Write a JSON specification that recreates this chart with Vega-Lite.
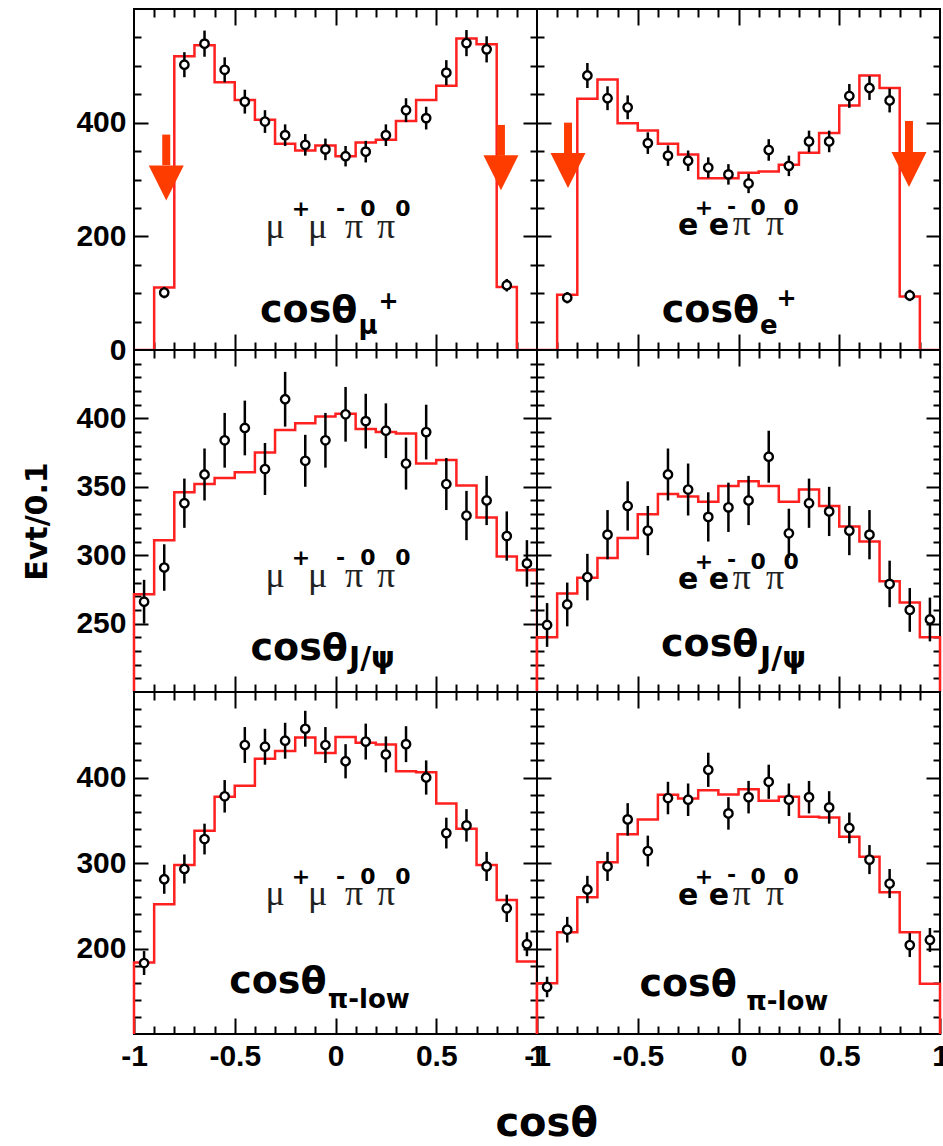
{
"$schema": "https://vega.github.io/schema/vega-lite/v6.json",
"background": "white",
"padding": {"left": 21, "top": 7, "right": 0, "bottom": 0},
"spacing": 0,
"columns": 2,
"bounds": "flush",
"config": {"view": {"stroke": "black", "strokeWidth": 2, "fill": "white"}},
"title": {"text": "cosθ", "orient": "bottom", "anchor": "middle", "font": "DejaVu Sans", "fontSize": 40, "fontWeight": "bold", "color": "black", "offset": 24, "dx": 61},
"datasets": {
"hist": [
{"p":"a","i":0,"x":-1,"v":0},{"p":"a","i":1,"x":-1,"v":0},{"p":"a","i":2,"x":-0.9,"v":110},{"p":"a","i":3,"x":-0.8,"v":517},{"p":"a","i":4,"x":-0.7,"v":536},{"p":"a","i":5,"x":-0.6,"v":471},{"p":"a","i":6,"x":-0.5,"v":440},{"p":"a","i":7,"x":-0.4,"v":405},{"p":"a","i":8,"x":-0.3,"v":363},{"p":"a","i":9,"x":-0.2,"v":351},{"p":"a","i":10,"x":-0.1,"v":360},{"p":"a","i":11,"x":0,"v":341},{"p":"a","i":12,"x":0.1,"v":365},{"p":"a","i":13,"x":0.2,"v":370},{"p":"a","i":14,"x":0.3,"v":403},{"p":"a","i":15,"x":0.4,"v":440},{"p":"a","i":16,"x":0.5,"v":465},{"p":"a","i":17,"x":0.6,"v":548},{"p":"a","i":18,"x":0.7,"v":538},{"p":"a","i":19,"x":0.8,"v":111},{"p":"a","i":20,"x":0.9,"v":0},{"p":"a","i":21,"x":1,"v":0},{"p":"a","i":22,"x":1,"v":0},
{"p":"b","i":0,"x":-1,"v":0},{"p":"b","i":1,"x":-1,"v":0},{"p":"b","i":2,"x":-0.9,"v":97},{"p":"b","i":3,"x":-0.8,"v":442},{"p":"b","i":4,"x":-0.7,"v":476},{"p":"b","i":5,"x":-0.6,"v":399},{"p":"b","i":6,"x":-0.5,"v":386},{"p":"b","i":7,"x":-0.4,"v":363},{"p":"b","i":8,"x":-0.3,"v":344},{"p":"b","i":9,"x":-0.2,"v":302},{"p":"b","i":10,"x":-0.1,"v":302},{"p":"b","i":11,"x":0,"v":312},{"p":"b","i":12,"x":0.1,"v":314},{"p":"b","i":13,"x":0.2,"v":326},{"p":"b","i":14,"x":0.3,"v":347},{"p":"b","i":15,"x":0.4,"v":382},{"p":"b","i":16,"x":0.5,"v":430},{"p":"b","i":17,"x":0.6,"v":483},{"p":"b","i":18,"x":0.7,"v":461},{"p":"b","i":19,"x":0.8,"v":94},{"p":"b","i":20,"x":0.9,"v":0},{"p":"b","i":21,"x":1,"v":0},{"p":"b","i":22,"x":1,"v":0},
{"p":"c","i":0,"x":-1,"v":200},{"p":"c","i":1,"x":-1,"v":271.5},{"p":"c","i":2,"x":-0.9,"v":311},{"p":"c","i":3,"x":-0.8,"v":346},{"p":"c","i":4,"x":-0.7,"v":352},{"p":"c","i":5,"x":-0.6,"v":356.5},{"p":"c","i":6,"x":-0.5,"v":360.6},{"p":"c","i":7,"x":-0.4,"v":375},{"p":"c","i":8,"x":-0.3,"v":391.5},{"p":"c","i":9,"x":-0.2,"v":396.4},{"p":"c","i":10,"x":-0.1,"v":401.4},{"p":"c","i":11,"x":0,"v":403.4},{"p":"c","i":12,"x":0.1,"v":392.3},{"p":"c","i":13,"x":0.2,"v":390},{"p":"c","i":14,"x":0.3,"v":389},{"p":"c","i":15,"x":0.4,"v":367},{"p":"c","i":16,"x":0.5,"v":369.6},{"p":"c","i":17,"x":0.6,"v":351},{"p":"c","i":18,"x":0.7,"v":327.5},{"p":"c","i":19,"x":0.8,"v":299},{"p":"c","i":20,"x":0.9,"v":289},{"p":"c","i":21,"x":1,"v":289},{"p":"c","i":22,"x":1,"v":200},
{"p":"d","i":0,"x":-1,"v":200},{"p":"d","i":1,"x":-1,"v":240},{"p":"d","i":2,"x":-0.9,"v":272},{"p":"d","i":3,"x":-0.8,"v":283.6},{"p":"d","i":4,"x":-0.7,"v":298},{"p":"d","i":5,"x":-0.6,"v":312.6},{"p":"d","i":6,"x":-0.5,"v":330},{"p":"d","i":7,"x":-0.4,"v":344.7},{"p":"d","i":8,"x":-0.3,"v":343},{"p":"d","i":9,"x":-0.2,"v":339},{"p":"d","i":10,"x":-0.1,"v":350.5},{"p":"d","i":11,"x":0,"v":354},{"p":"d","i":12,"x":0.1,"v":350.5},{"p":"d","i":13,"x":0.2,"v":339},{"p":"d","i":14,"x":0.3,"v":348},{"p":"d","i":15,"x":0.4,"v":336},{"p":"d","i":16,"x":0.5,"v":321},{"p":"d","i":17,"x":0.6,"v":310},{"p":"d","i":18,"x":0.7,"v":281},{"p":"d","i":19,"x":0.8,"v":265.5},{"p":"d","i":20,"x":0.9,"v":240},{"p":"d","i":21,"x":1,"v":240},{"p":"d","i":22,"x":1,"v":200},
{"p":"e","i":0,"x":-1,"v":100},{"p":"e","i":1,"x":-1,"v":183.7},{"p":"e","i":2,"x":-0.9,"v":251.8},{"p":"e","i":3,"x":-0.8,"v":297.7},{"p":"e","i":4,"x":-0.7,"v":337.7},{"p":"e","i":5,"x":-0.6,"v":377.4},{"p":"e","i":6,"x":-0.5,"v":390.3},{"p":"e","i":7,"x":-0.4,"v":421.8},{"p":"e","i":8,"x":-0.3,"v":431},{"p":"e","i":9,"x":-0.2,"v":446.7},{"p":"e","i":10,"x":-0.1,"v":428.8},{"p":"e","i":11,"x":0,"v":447.5},{"p":"e","i":12,"x":0.1,"v":440.5},{"p":"e","i":13,"x":0.2,"v":438.5},{"p":"e","i":14,"x":0.3,"v":407.4},{"p":"e","i":15,"x":0.4,"v":406.2},{"p":"e","i":16,"x":0.5,"v":369.6},{"p":"e","i":17,"x":0.6,"v":340},{"p":"e","i":18,"x":0.7,"v":297.7},{"p":"e","i":19,"x":0.8,"v":256.8},{"p":"e","i":20,"x":0.9,"v":184.8},{"p":"e","i":21,"x":1,"v":184.8},{"p":"e","i":22,"x":1,"v":100},
{"p":"f","i":0,"x":-1,"v":100},{"p":"f","i":1,"x":-1,"v":159.5},{"p":"f","i":2,"x":-0.9,"v":219},{"p":"f","i":3,"x":-0.8,"v":260},{"p":"f","i":4,"x":-0.7,"v":300.8},{"p":"f","i":5,"x":-0.6,"v":333.5},{"p":"f","i":6,"x":-0.5,"v":351},{"p":"f","i":7,"x":-0.4,"v":379.8},{"p":"f","i":8,"x":-0.3,"v":375.5},{"p":"f","i":9,"x":-0.2,"v":385.2},{"p":"f","i":10,"x":-0.1,"v":380},{"p":"f","i":11,"x":0,"v":386.4},{"p":"f","i":12,"x":0.1,"v":372.8},{"p":"f","i":13,"x":0.2,"v":377.4},{"p":"f","i":14,"x":0.3,"v":354},{"p":"f","i":15,"x":0.4,"v":353.3},{"p":"f","i":16,"x":0.5,"v":330.7},{"p":"f","i":17,"x":0.6,"v":307.4},{"p":"f","i":18,"x":0.7,"v":265.8},{"p":"f","i":19,"x":0.8,"v":219},{"p":"f","i":20,"x":0.9,"v":158.8},{"p":"f","i":21,"x":1,"v":158.8},{"p":"f","i":22,"x":1,"v":100}
],
"pts": [
{"p":"a","x":-0.85,"v":101,"e":10},{"p":"a","x":-0.75,"v":502,"e":22},{"p":"a","x":-0.65,"v":539,"e":23},{"p":"a","x":-0.55,"v":493,"e":22},{"p":"a","x":-0.45,"v":437,"e":21},{"p":"a","x":-0.35,"v":402,"e":20},{"p":"a","x":-0.25,"v":378,"e":19},{"p":"a","x":-0.15,"v":361,"e":19},{"p":"a","x":-0.05,"v":353,"e":19},{"p":"a","x":0.05,"v":341,"e":18},{"p":"a","x":0.15,"v":349,"e":19},{"p":"a","x":0.25,"v":378,"e":19},{"p":"a","x":0.35,"v":422,"e":21},{"p":"a","x":0.45,"v":408,"e":20},{"p":"a","x":0.55,"v":488,"e":22},{"p":"a","x":0.65,"v":540,"e":23},{"p":"a","x":0.75,"v":529,"e":23},{"p":"a","x":0.85,"v":114,"e":11},
{"p":"b","x":-0.85,"v":92,"e":10},{"p":"b","x":-0.75,"v":483,"e":22},{"p":"b","x":-0.65,"v":443,"e":21},{"p":"b","x":-0.55,"v":427,"e":21},{"p":"b","x":-0.45,"v":364,"e":19},{"p":"b","x":-0.35,"v":342,"e":18},{"p":"b","x":-0.25,"v":333,"e":18},{"p":"b","x":-0.15,"v":321,"e":18},{"p":"b","x":-0.05,"v":309,"e":18},{"p":"b","x":0.05,"v":293,"e":17},{"p":"b","x":0.15,"v":352,"e":19},{"p":"b","x":0.25,"v":324,"e":18},{"p":"b","x":0.35,"v":367,"e":19},{"p":"b","x":0.45,"v":367,"e":19},{"p":"b","x":0.55,"v":447,"e":21},{"p":"b","x":0.65,"v":461,"e":21},{"p":"b","x":0.75,"v":439,"e":21},{"p":"b","x":0.85,"v":96,"e":10},
{"p":"c","x":-0.95,"v":266,"e":16},{"p":"c","x":-0.85,"v":291,"e":17},{"p":"c","x":-0.75,"v":338,"e":18},{"p":"c","x":-0.65,"v":359,"e":19},{"p":"c","x":-0.55,"v":384,"e":20},{"p":"c","x":-0.45,"v":393,"e":20},{"p":"c","x":-0.35,"v":363,"e":19},{"p":"c","x":-0.25,"v":414,"e":20},{"p":"c","x":-0.15,"v":369,"e":19},{"p":"c","x":-0.05,"v":384,"e":20},{"p":"c","x":0.05,"v":403,"e":20},{"p":"c","x":0.15,"v":398,"e":20},{"p":"c","x":0.25,"v":391,"e":20},{"p":"c","x":0.35,"v":367,"e":19},{"p":"c","x":0.45,"v":390,"e":20},{"p":"c","x":0.55,"v":352,"e":19},{"p":"c","x":0.65,"v":329,"e":18},{"p":"c","x":0.75,"v":340,"e":18},{"p":"c","x":0.85,"v":314,"e":18},{"p":"c","x":0.95,"v":294,"e":17},
{"p":"d","x":-0.95,"v":249,"e":16},{"p":"d","x":-0.85,"v":264,"e":16},{"p":"d","x":-0.75,"v":284,"e":17},{"p":"d","x":-0.65,"v":315,"e":18},{"p":"d","x":-0.55,"v":336,"e":18},{"p":"d","x":-0.45,"v":318,"e":18},{"p":"d","x":-0.35,"v":359,"e":19},{"p":"d","x":-0.25,"v":348,"e":19},{"p":"d","x":-0.15,"v":328,"e":18},{"p":"d","x":-0.05,"v":335,"e":18},{"p":"d","x":0.05,"v":340,"e":18},{"p":"d","x":0.15,"v":372,"e":19},{"p":"d","x":0.25,"v":316,"e":18},{"p":"d","x":0.35,"v":338,"e":18},{"p":"d","x":0.45,"v":332,"e":18},{"p":"d","x":0.55,"v":318,"e":18},{"p":"d","x":0.65,"v":315,"e":18},{"p":"d","x":0.75,"v":279,"e":17},{"p":"d","x":0.85,"v":260,"e":16},{"p":"d","x":0.95,"v":253,"e":16},
{"p":"e","x":-0.95,"v":183,"e":14},{"p":"e","x":-0.85,"v":281,"e":17},{"p":"e","x":-0.75,"v":293,"e":17},{"p":"e","x":-0.65,"v":328,"e":18},{"p":"e","x":-0.55,"v":378,"e":19},{"p":"e","x":-0.45,"v":438,"e":21},{"p":"e","x":-0.35,"v":436,"e":21},{"p":"e","x":-0.25,"v":443,"e":21},{"p":"e","x":-0.15,"v":457,"e":21},{"p":"e","x":-0.05,"v":438,"e":21},{"p":"e","x":0.05,"v":419,"e":20},{"p":"e","x":0.15,"v":442,"e":21},{"p":"e","x":0.25,"v":427,"e":21},{"p":"e","x":0.35,"v":439,"e":21},{"p":"e","x":0.45,"v":400,"e":20},{"p":"e","x":0.55,"v":335,"e":18},{"p":"e","x":0.65,"v":344,"e":19},{"p":"e","x":0.75,"v":296,"e":17},{"p":"e","x":0.85,"v":247,"e":16},{"p":"e","x":0.95,"v":205,"e":14},
{"p":"f","x":-0.95,"v":155,"e":12},{"p":"f","x":-0.85,"v":222,"e":15},{"p":"f","x":-0.75,"v":269,"e":16},{"p":"f","x":-0.65,"v":296,"e":17},{"p":"f","x":-0.55,"v":351,"e":19},{"p":"f","x":-0.45,"v":314,"e":18},{"p":"f","x":-0.35,"v":376,"e":19},{"p":"f","x":-0.25,"v":374,"e":19},{"p":"f","x":-0.15,"v":409,"e":20},{"p":"f","x":-0.05,"v":358,"e":19},{"p":"f","x":0.05,"v":377,"e":19},{"p":"f","x":0.15,"v":395,"e":20},{"p":"f","x":0.25,"v":374,"e":19},{"p":"f","x":0.35,"v":377,"e":19},{"p":"f","x":0.45,"v":365,"e":19},{"p":"f","x":0.55,"v":341,"e":18},{"p":"f","x":0.65,"v":304,"e":17},{"p":"f","x":0.75,"v":276,"e":17},{"p":"f","x":0.85,"v":204,"e":14},{"p":"f","x":0.95,"v":210,"e":14}
],
"arr": [
{"p":"a","x":-0.84,"top":379,"neck":325,"tip":263},{"p":"a","x":0.821,"top":396,"neck":342,"tip":281},
{"p":"b","x":-0.846,"top":400,"neck":346,"tip":285},{"p":"b","x":0.846,"top":403,"neck":348,"tip":287}
],
"txt": [
{"p":"a","k":"main","t":"cosθ","x":-0.133,"y":49},{"p":"a","k":"sub","t":"μ","x":0.161,"y":29},{"p":"a","k":"sup","t":"+","x":0.263,"y":73},
{"p":"a","k":"gbase","t":"μ","x":-0.3,"y":197},{"p":"a","k":"gbase","t":"μ","x":-0.089,"y":197},{"p":"a","k":"gbase","t":"π","x":0.092,"y":197},{"p":"a","k":"gbase","t":"π","x":0.251,"y":197},
{"p":"a","k":"dsup","t":"+","x":-0.171,"y":236},{"p":"a","k":"dsup","t":"-","x":0.025,"y":236},{"p":"a","k":"dsup","t":"0","x":0.161,"y":236},{"p":"a","k":"dsup","t":"0","x":0.335,"y":236},
{"p":"b","k":"main","t":"cosθ","x":-0.139,"y":49},{"p":"b","k":"sub","t":"e","x":0.151,"y":29},{"p":"b","k":"sup","t":"+","x":0.239,"y":78},
{"p":"b","k":"ebase","t":"e","x":-0.25,"y":202},{"p":"b","k":"ebase","t":"e","x":-0.097,"y":202},{"p":"b","k":"gbase","t":"π","x":0.017,"y":202},{"p":"b","k":"gbase","t":"π","x":0.181,"y":202},
{"p":"b","k":"dsup","t":"+","x":-0.171,"y":237},{"p":"b","k":"dsup","t":"-","x":-0.035,"y":240},{"p":"b","k":"dsup","t":"0","x":0.097,"y":237},{"p":"b","k":"dsup","t":"0","x":0.261,"y":237},
{"p":"c","k":"main","t":"cosθ","x":-0.18,"y":223.7},{"p":"c","k":"sub2","t":"J/ψ","x":0.181,"y":217.7},
{"p":"c","k":"gbase","t":"μ","x":-0.3,"y":277},{"p":"c","k":"gbase","t":"μ","x":-0.089,"y":277},{"p":"c","k":"gbase","t":"π","x":0.092,"y":277},{"p":"c","k":"gbase","t":"π","x":0.251,"y":277},
{"p":"c","k":"dsup","t":"+","x":-0.171,"y":293},{"p":"c","k":"dsup","t":"-","x":0.025,"y":293},{"p":"c","k":"dsup","t":"0","x":0.161,"y":293},{"p":"c","k":"dsup","t":"0","x":0.335,"y":293},
{"p":"d","k":"main","t":"cosθ","x":-0.143,"y":226.6},{"p":"d","k":"sub2","t":"J/ψ","x":0.221,"y":217.7},
{"p":"d","k":"ebase","t":"e","x":-0.25,"y":275.6},{"p":"d","k":"ebase","t":"e","x":-0.097,"y":275.6},{"p":"d","k":"gbase","t":"π","x":0.017,"y":275.6},{"p":"d","k":"gbase","t":"π","x":0.181,"y":275.6},
{"p":"d","k":"dsup","t":"+","x":-0.171,"y":290},{"p":"d","k":"dsup","t":"-","x":-0.035,"y":291.5},{"p":"d","k":"dsup","t":"0","x":0.097,"y":290},{"p":"d","k":"dsup","t":"0","x":0.261,"y":290},
{"p":"e","k":"main","t":"cosθ","x":-0.286,"y":148},{"p":"e","k":"sub","t":"π-low","x":0.165,"y":130.7},
{"p":"e","k":"gbase","t":"μ","x":-0.3,"y":251},{"p":"e","k":"gbase","t":"μ","x":-0.089,"y":251},{"p":"e","k":"gbase","t":"π","x":0.092,"y":251},{"p":"e","k":"gbase","t":"π","x":0.251,"y":251},
{"p":"e","k":"dsup","t":"+","x":-0.171,"y":276},{"p":"e","k":"dsup","t":"-","x":0.025,"y":276},{"p":"e","k":"dsup","t":"0","x":0.161,"y":276},{"p":"e","k":"dsup","t":"0","x":0.335,"y":276},
{"p":"f","k":"main","t":"cosθ","x":-0.25,"y":144},{"p":"f","k":"sub","t":"π-low","x":0.242,"y":128.4},
{"p":"f","k":"ebase","t":"e","x":-0.25,"y":251},{"p":"f","k":"ebase","t":"e","x":-0.097,"y":251},{"p":"f","k":"gbase","t":"π","x":0.017,"y":251},{"p":"f","k":"gbase","t":"π","x":0.181,"y":251},
{"p":"f","k":"dsup","t":"+","x":-0.171,"y":275.6},{"p":"f","k":"dsup","t":"-","x":-0.035,"y":278},{"p":"f","k":"dsup","t":"0","x":0.097,"y":275.6},{"p":"f","k":"dsup","t":"0","x":0.261,"y":275.6}
]
},
"concat": [
{"width": 403, "height": 341, "resolve": {"axis": {"x": "independent", "y": "independent"}},
 "layer": [
  {"data": {"name": "hist"}, "transform": [{"filter": "datum.p == 'a'"}], "mark": {"type": "line", "interpolate": "step-after", "color": "#ff2020", "strokeWidth": 2.5},
   "encoding": {"x": {"field": "x", "type": "quantitative", "scale": {"domain": [-1, 1], "nice": false, "zero": false}, "axis": {"orient": "bottom", "values": [-0.9,-0.8,-0.7,-0.6,-0.5,-0.4,-0.3,-0.2,-0.1,0,0.1,0.2,0.3,0.4,0.5,0.6,0.7,0.8,0.9], "title": null, "grid": false, "domain": false, "labels": false, "tickColor": "black", "tickWidth": 2, "tickSize": {"condition": {"test": "abs(datum.value*2-round(datum.value*2))<0.01", "value": -16}, "value": -8}}},
    "y": {"field": "v", "type": "quantitative", "scale": {"domain": [0, 600], "nice": false, "zero": false}, "axis": {"orient": "left", "values": [0,50,100,150,200,250,300,350,400,450,500,550], "title": null, "grid": false, "domain": false, "tickColor": "black", "tickWidth": 2, "tickSize": {"condition": {"test": "datum.value % 200 == 0", "value": -14}, "value": -7}, "labelExpr": "datum.value % 200 == 0 ? toString(datum.value) : ''", "labelFont": "Liberation Sans", "labelFontWeight": "bold", "labelFontSize": 30, "labelColor": "black", "labelPadding": 22, "labelOverlap": false, "labelFlush": false, "labelBound": false}},
    "order": {"field": "i", "type": "quantitative"}}},
  {"data": {"name": "pts"}, "transform": [{"filter": "datum.p == 'a'"}], "mark": {"type": "errorbar", "color": "black", "thickness": 2.5},
   "encoding": {"x": {"field": "x", "type": "quantitative", "axis": null}, "y": {"field": "v", "type": "quantitative", "axis": null}, "yError": {"field": "e"}}},
  {"data": {"name": "pts"}, "transform": [{"filter": "datum.p == 'a'"}], "mark": {"type": "point", "shape": "circle", "size": 70, "fill": "white", "stroke": "black", "strokeWidth": 2.4, "opacity": 1},
   "encoding": {"x": {"field": "x", "type": "quantitative", "axis": {"orient": "top", "values": [-0.9,-0.8,-0.7,-0.6,-0.5,-0.4,-0.3,-0.2,-0.1,0,0.1,0.2,0.3,0.4,0.5,0.6,0.7,0.8,0.9], "title": null, "grid": false, "domain": false, "labels": false, "tickColor": "black", "tickWidth": 2, "tickSize": {"condition": {"test": "abs(datum.value*2-round(datum.value*2))<0.01", "value": -16}, "value": -8}}},
    "y": {"field": "v", "type": "quantitative", "axis": {"orient": "right", "values": [50,100,150,200,250,300,350,400,450,500,550], "title": null, "grid": false, "domain": false, "labels": false, "tickColor": "black", "tickWidth": 2, "tickSize": {"condition": {"test": "datum.value % 200 == 0", "value": -14}, "value": -7}}}}},
  {"data": {"name": "arr"}, "transform": [{"filter": "datum.p == 'a'"}], "mark": {"type": "rule", "color": "#ff3c00", "strokeWidth": 8},
   "encoding": {"x": {"field": "x", "type": "quantitative", "axis": null}, "y": {"field": "top", "type": "quantitative", "axis": null}, "y2": {"field": "neck"}}},
  {"data": {"name": "arr"}, "transform": [{"filter": "datum.p == 'a'"}], "mark": {"type": "point", "shape": "M-1,-2L1,-2L0,0Z", "size": 1225, "filled": true, "color": "#ff3c00", "opacity": 1, "strokeWidth": 0},
   "encoding": {"x": {"field": "x", "type": "quantitative", "axis": null}, "y": {"field": "tip", "type": "quantitative", "axis": null}}},
  {"data": {"name": "txt"}, "transform": [{"filter": "datum.p == 'a' && datum.k != 'gbase'"}], "mark": {"type": "text", "font": "DejaVu Sans", "fontWeight": "bold", "align": "center", "baseline": "alphabetic", "color": "black"},
   "encoding": {"x": {"field": "x", "type": "quantitative", "axis": null}, "y": {"field": "y", "type": "quantitative", "axis": null}, "text": {"field": "t"}, "size": {"field": "k", "type": "ordinal", "scale": {"type": "ordinal", "domain": ["main","sub","sub2","sup","dsup","ebase","gbase"], "range": [38,26,30,24,22,30,36]}, "legend": null}}},
  {"data": {"name": "txt"}, "transform": [{"filter": "datum.p == 'a' && datum.k == 'gbase'"}], "mark": {"type": "text", "font": "Liberation Serif", "fontSize": 36, "align": "center", "baseline": "alphabetic", "color": "#222222"},
   "encoding": {"x": {"field": "x", "type": "quantitative", "axis": null}, "y": {"field": "y", "type": "quantitative", "axis": null}, "text": {"field": "t"}}}
 ]},
{"width": 403, "height": 341, "resolve": {"axis": {"x": "independent", "y": "independent"}},
 "layer": [
  {"data": {"name": "hist"}, "transform": [{"filter": "datum.p == 'b'"}], "mark": {"type": "line", "interpolate": "step-after", "color": "#ff2020", "strokeWidth": 2.5},
   "encoding": {"x": {"field": "x", "type": "quantitative", "scale": {"domain": [-1, 1], "nice": false, "zero": false}, "axis": {"orient": "bottom", "values": [-0.9,-0.8,-0.7,-0.6,-0.5,-0.4,-0.3,-0.2,-0.1,0,0.1,0.2,0.3,0.4,0.5,0.6,0.7,0.8,0.9], "title": null, "grid": false, "domain": false, "labels": false, "tickColor": "black", "tickWidth": 2, "tickSize": {"condition": {"test": "abs(datum.value*2-round(datum.value*2))<0.01", "value": -16}, "value": -8}}},
    "y": {"field": "v", "type": "quantitative", "scale": {"domain": [0, 600], "nice": false, "zero": false}, "axis": {"orient": "left", "values": [50,100,150,200,250,300,350,400,450,500,550], "title": null, "grid": false, "domain": false, "labels": false, "tickColor": "black", "tickWidth": 2, "tickSize": {"condition": {"test": "datum.value % 200 == 0", "value": -14}, "value": -7}}},
    "order": {"field": "i", "type": "quantitative"}}},
  {"data": {"name": "pts"}, "transform": [{"filter": "datum.p == 'b'"}], "mark": {"type": "errorbar", "color": "black", "thickness": 2.5},
   "encoding": {"x": {"field": "x", "type": "quantitative", "axis": null}, "y": {"field": "v", "type": "quantitative", "axis": null}, "yError": {"field": "e"}}},
  {"data": {"name": "pts"}, "transform": [{"filter": "datum.p == 'b'"}], "mark": {"type": "point", "shape": "circle", "size": 70, "fill": "white", "stroke": "black", "strokeWidth": 2.4, "opacity": 1},
   "encoding": {"x": {"field": "x", "type": "quantitative", "axis": {"orient": "top", "values": [-0.9,-0.8,-0.7,-0.6,-0.5,-0.4,-0.3,-0.2,-0.1,0,0.1,0.2,0.3,0.4,0.5,0.6,0.7,0.8,0.9], "title": null, "grid": false, "domain": false, "labels": false, "tickColor": "black", "tickWidth": 2, "tickSize": {"condition": {"test": "abs(datum.value*2-round(datum.value*2))<0.01", "value": -16}, "value": -8}}},
    "y": {"field": "v", "type": "quantitative", "axis": {"orient": "right", "values": [50,100,150,200,250,300,350,400,450,500,550], "title": null, "grid": false, "domain": false, "labels": false, "tickColor": "black", "tickWidth": 2, "tickSize": {"condition": {"test": "datum.value % 200 == 0", "value": -14}, "value": -7}}}}},
  {"data": {"name": "arr"}, "transform": [{"filter": "datum.p == 'b'"}], "mark": {"type": "rule", "color": "#ff3c00", "strokeWidth": 8},
   "encoding": {"x": {"field": "x", "type": "quantitative", "axis": null}, "y": {"field": "top", "type": "quantitative", "axis": null}, "y2": {"field": "neck"}}},
  {"data": {"name": "arr"}, "transform": [{"filter": "datum.p == 'b'"}], "mark": {"type": "point", "shape": "M-1,-2L1,-2L0,0Z", "size": 1225, "filled": true, "color": "#ff3c00", "opacity": 1, "strokeWidth": 0},
   "encoding": {"x": {"field": "x", "type": "quantitative", "axis": null}, "y": {"field": "tip", "type": "quantitative", "axis": null}}},
  {"data": {"name": "txt"}, "transform": [{"filter": "datum.p == 'b' && datum.k != 'gbase'"}], "mark": {"type": "text", "font": "DejaVu Sans", "fontWeight": "bold", "align": "center", "baseline": "alphabetic", "color": "black"},
   "encoding": {"x": {"field": "x", "type": "quantitative", "axis": null}, "y": {"field": "y", "type": "quantitative", "axis": null}, "text": {"field": "t"}, "size": {"field": "k", "type": "ordinal", "scale": {"type": "ordinal", "domain": ["main","sub","sub2","sup","dsup","ebase","gbase"], "range": [38,26,30,24,22,30,36]}, "legend": null}}},
  {"data": {"name": "txt"}, "transform": [{"filter": "datum.p == 'b' && datum.k == 'gbase'"}], "mark": {"type": "text", "font": "Liberation Serif", "fontSize": 36, "align": "center", "baseline": "alphabetic", "color": "#222222"},
   "encoding": {"x": {"field": "x", "type": "quantitative", "axis": null}, "y": {"field": "y", "type": "quantitative", "axis": null}, "text": {"field": "t"}}}
 ]},
{"width": 403, "height": 342, "resolve": {"axis": {"x": "independent", "y": "independent"}},
 "layer": [
  {"data": {"name": "hist"}, "transform": [{"filter": "datum.p == 'c'"}], "mark": {"type": "line", "interpolate": "step-after", "color": "#ff2020", "strokeWidth": 2.5},
   "encoding": {"x": {"field": "x", "type": "quantitative", "scale": {"domain": [-1, 1], "nice": false, "zero": false}, "axis": {"orient": "bottom", "values": [-0.9,-0.8,-0.7,-0.6,-0.5,-0.4,-0.3,-0.2,-0.1,0,0.1,0.2,0.3,0.4,0.5,0.6,0.7,0.8,0.9], "title": null, "grid": false, "domain": false, "labels": false, "tickColor": "black", "tickWidth": 2, "tickSize": {"condition": {"test": "abs(datum.value*2-round(datum.value*2))<0.01", "value": -16}, "value": -8}}},
    "y": {"field": "v", "type": "quantitative", "scale": {"domain": [200, 450], "nice": false, "zero": false}, "axis": {"orient": "left", "values": [210,220,230,240,250,260,270,280,290,300,310,320,330,340,350,360,370,380,390,400,410,420,430,440], "title": "Evt/0.1", "titleFont": "DejaVu Sans", "titleFontWeight": "bold", "titleFontSize": 30, "titleColor": "black", "titlePadding": 23, "grid": false, "domain": false, "tickColor": "black", "tickWidth": 2, "tickSize": {"condition": {"test": "datum.value % 50 == 0", "value": -14}, "value": -7}, "labelExpr": "datum.value % 50 == 0 ? toString(datum.value) : ''", "labelFont": "Liberation Sans", "labelFontWeight": "bold", "labelFontSize": 30, "labelColor": "black", "labelPadding": 22, "labelOverlap": false, "labelFlush": false, "labelBound": false}},
    "order": {"field": "i", "type": "quantitative"}}},
  {"data": {"name": "pts"}, "transform": [{"filter": "datum.p == 'c'"}], "mark": {"type": "errorbar", "color": "black", "thickness": 2.5},
   "encoding": {"x": {"field": "x", "type": "quantitative", "axis": null}, "y": {"field": "v", "type": "quantitative", "axis": null}, "yError": {"field": "e"}}},
  {"data": {"name": "pts"}, "transform": [{"filter": "datum.p == 'c'"}], "mark": {"type": "point", "shape": "circle", "size": 70, "fill": "white", "stroke": "black", "strokeWidth": 2.4, "opacity": 1},
   "encoding": {"x": {"field": "x", "type": "quantitative", "axis": {"orient": "top", "values": [-0.9,-0.8,-0.7,-0.6,-0.5,-0.4,-0.3,-0.2,-0.1,0,0.1,0.2,0.3,0.4,0.5,0.6,0.7,0.8,0.9], "title": null, "grid": false, "domain": false, "labels": false, "tickColor": "black", "tickWidth": 2, "tickSize": {"condition": {"test": "abs(datum.value*2-round(datum.value*2))<0.01", "value": -16}, "value": -8}}},
    "y": {"field": "v", "type": "quantitative", "axis": {"orient": "right", "values": [210,220,230,240,250,260,270,280,290,300,310,320,330,340,350,360,370,380,390,400,410,420,430,440], "title": null, "grid": false, "domain": false, "labels": false, "tickColor": "black", "tickWidth": 2, "tickSize": {"condition": {"test": "datum.value % 50 == 0", "value": -14}, "value": -7}}}}},
  {"data": {"name": "txt"}, "transform": [{"filter": "datum.p == 'c' && datum.k != 'gbase'"}], "mark": {"type": "text", "font": "DejaVu Sans", "fontWeight": "bold", "align": "center", "baseline": "alphabetic", "color": "black"},
   "encoding": {"x": {"field": "x", "type": "quantitative", "axis": null}, "y": {"field": "y", "type": "quantitative", "axis": null}, "text": {"field": "t"}, "size": {"field": "k", "type": "ordinal", "scale": {"type": "ordinal", "domain": ["main","sub","sub2","sup","dsup","ebase","gbase"], "range": [38,26,30,24,22,30,36]}, "legend": null}}},
  {"data": {"name": "txt"}, "transform": [{"filter": "datum.p == 'c' && datum.k == 'gbase'"}], "mark": {"type": "text", "font": "Liberation Serif", "fontSize": 36, "align": "center", "baseline": "alphabetic", "color": "#222222"},
   "encoding": {"x": {"field": "x", "type": "quantitative", "axis": null}, "y": {"field": "y", "type": "quantitative", "axis": null}, "text": {"field": "t"}}}
 ]},
{"width": 403, "height": 342, "resolve": {"axis": {"x": "independent", "y": "independent"}},
 "layer": [
  {"data": {"name": "hist"}, "transform": [{"filter": "datum.p == 'd'"}], "mark": {"type": "line", "interpolate": "step-after", "color": "#ff2020", "strokeWidth": 2.5},
   "encoding": {"x": {"field": "x", "type": "quantitative", "scale": {"domain": [-1, 1], "nice": false, "zero": false}, "axis": {"orient": "bottom", "values": [-0.9,-0.8,-0.7,-0.6,-0.5,-0.4,-0.3,-0.2,-0.1,0,0.1,0.2,0.3,0.4,0.5,0.6,0.7,0.8,0.9], "title": null, "grid": false, "domain": false, "labels": false, "tickColor": "black", "tickWidth": 2, "tickSize": {"condition": {"test": "abs(datum.value*2-round(datum.value*2))<0.01", "value": -16}, "value": -8}}},
    "y": {"field": "v", "type": "quantitative", "scale": {"domain": [200, 450], "nice": false, "zero": false}, "axis": {"orient": "left", "values": [210,220,230,240,250,260,270,280,290,300,310,320,330,340,350,360,370,380,390,400,410,420,430,440], "title": null, "grid": false, "domain": false, "labels": false, "tickColor": "black", "tickWidth": 2, "tickSize": {"condition": {"test": "datum.value % 50 == 0", "value": -14}, "value": -7}}},
    "order": {"field": "i", "type": "quantitative"}}},
  {"data": {"name": "pts"}, "transform": [{"filter": "datum.p == 'd'"}], "mark": {"type": "errorbar", "color": "black", "thickness": 2.5},
   "encoding": {"x": {"field": "x", "type": "quantitative", "axis": null}, "y": {"field": "v", "type": "quantitative", "axis": null}, "yError": {"field": "e"}}},
  {"data": {"name": "pts"}, "transform": [{"filter": "datum.p == 'd'"}], "mark": {"type": "point", "shape": "circle", "size": 70, "fill": "white", "stroke": "black", "strokeWidth": 2.4, "opacity": 1},
   "encoding": {"x": {"field": "x", "type": "quantitative", "axis": {"orient": "top", "values": [-0.9,-0.8,-0.7,-0.6,-0.5,-0.4,-0.3,-0.2,-0.1,0,0.1,0.2,0.3,0.4,0.5,0.6,0.7,0.8,0.9], "title": null, "grid": false, "domain": false, "labels": false, "tickColor": "black", "tickWidth": 2, "tickSize": {"condition": {"test": "abs(datum.value*2-round(datum.value*2))<0.01", "value": -16}, "value": -8}}},
    "y": {"field": "v", "type": "quantitative", "axis": {"orient": "right", "values": [210,220,230,240,250,260,270,280,290,300,310,320,330,340,350,360,370,380,390,400,410,420,430,440], "title": null, "grid": false, "domain": false, "labels": false, "tickColor": "black", "tickWidth": 2, "tickSize": {"condition": {"test": "datum.value % 50 == 0", "value": -14}, "value": -7}}}}},
  {"data": {"name": "txt"}, "transform": [{"filter": "datum.p == 'd' && datum.k != 'gbase'"}], "mark": {"type": "text", "font": "DejaVu Sans", "fontWeight": "bold", "align": "center", "baseline": "alphabetic", "color": "black"},
   "encoding": {"x": {"field": "x", "type": "quantitative", "axis": null}, "y": {"field": "y", "type": "quantitative", "axis": null}, "text": {"field": "t"}, "size": {"field": "k", "type": "ordinal", "scale": {"type": "ordinal", "domain": ["main","sub","sub2","sup","dsup","ebase","gbase"], "range": [38,26,30,24,22,30,36]}, "legend": null}}},
  {"data": {"name": "txt"}, "transform": [{"filter": "datum.p == 'd' && datum.k == 'gbase'"}], "mark": {"type": "text", "font": "Liberation Serif", "fontSize": 36, "align": "center", "baseline": "alphabetic", "color": "#222222"},
   "encoding": {"x": {"field": "x", "type": "quantitative", "axis": null}, "y": {"field": "y", "type": "quantitative", "axis": null}, "text": {"field": "t"}}}
 ]},
{"width": 403, "height": 342, "resolve": {"axis": {"x": "independent", "y": "independent"}},
 "layer": [
  {"data": {"name": "hist"}, "transform": [{"filter": "datum.p == 'e'"}], "mark": {"type": "line", "interpolate": "step-after", "color": "#ff2020", "strokeWidth": 2.5},
   "encoding": {"x": {"field": "x", "type": "quantitative", "scale": {"domain": [-1, 1], "nice": false, "zero": false}, "axis": {"orient": "bottom", "values": [-1,-0.9,-0.8,-0.7,-0.6,-0.5,-0.4,-0.3,-0.2,-0.1,0,0.1,0.2,0.3,0.4,0.5,0.6,0.7,0.8,0.9,1], "title": null, "grid": false, "domain": false, "tickColor": "black", "tickWidth": 2, "tickSize": {"condition": {"test": "abs(datum.value*2-round(datum.value*2))<0.01", "value": -16}, "value": -8}, "labelExpr": "abs(datum.value*2-round(datum.value*2))<0.01 ? toString(datum.value) : ''", "labelFont": "Liberation Sans", "labelFontWeight": "bold", "labelFontSize": 30, "labelColor": "black", "labelPadding": 23, "labelFlush": false, "labelOverlap": false, "labelBound": false}},
    "y": {"field": "v", "type": "quantitative", "scale": {"domain": [100, 500], "nice": false, "zero": false}, "axis": {"orient": "left", "values": [120,140,160,180,200,220,240,260,280,300,320,340,360,380,400,420,440,460,480], "title": null, "grid": false, "domain": false, "tickColor": "black", "tickWidth": 2, "tickSize": {"condition": {"test": "datum.value % 100 == 0", "value": -14}, "value": -7}, "labelExpr": "datum.value % 100 == 0 ? toString(datum.value) : ''", "labelFont": "Liberation Sans", "labelFontWeight": "bold", "labelFontSize": 30, "labelColor": "black", "labelPadding": 22, "labelOverlap": false, "labelFlush": false, "labelBound": false}},
    "order": {"field": "i", "type": "quantitative"}}},
  {"data": {"name": "pts"}, "transform": [{"filter": "datum.p == 'e'"}], "mark": {"type": "errorbar", "color": "black", "thickness": 2.5},
   "encoding": {"x": {"field": "x", "type": "quantitative", "axis": null}, "y": {"field": "v", "type": "quantitative", "axis": null}, "yError": {"field": "e"}}},
  {"data": {"name": "pts"}, "transform": [{"filter": "datum.p == 'e'"}], "mark": {"type": "point", "shape": "circle", "size": 70, "fill": "white", "stroke": "black", "strokeWidth": 2.4, "opacity": 1},
   "encoding": {"x": {"field": "x", "type": "quantitative", "axis": {"orient": "top", "values": [-0.9,-0.8,-0.7,-0.6,-0.5,-0.4,-0.3,-0.2,-0.1,0,0.1,0.2,0.3,0.4,0.5,0.6,0.7,0.8,0.9], "title": null, "grid": false, "domain": false, "labels": false, "tickColor": "black", "tickWidth": 2, "tickSize": {"condition": {"test": "abs(datum.value*2-round(datum.value*2))<0.01", "value": -16}, "value": -8}}},
    "y": {"field": "v", "type": "quantitative", "axis": {"orient": "right", "values": [120,140,160,180,200,220,240,260,280,300,320,340,360,380,400,420,440,460,480], "title": null, "grid": false, "domain": false, "labels": false, "tickColor": "black", "tickWidth": 2, "tickSize": {"condition": {"test": "datum.value % 100 == 0", "value": -14}, "value": -7}}}}},
  {"data": {"name": "txt"}, "transform": [{"filter": "datum.p == 'e' && datum.k != 'gbase'"}], "mark": {"type": "text", "font": "DejaVu Sans", "fontWeight": "bold", "align": "center", "baseline": "alphabetic", "color": "black"},
   "encoding": {"x": {"field": "x", "type": "quantitative", "axis": null}, "y": {"field": "y", "type": "quantitative", "axis": null}, "text": {"field": "t"}, "size": {"field": "k", "type": "ordinal", "scale": {"type": "ordinal", "domain": ["main","sub","sub2","sup","dsup","ebase","gbase"], "range": [38,26,30,24,22,30,36]}, "legend": null}}},
  {"data": {"name": "txt"}, "transform": [{"filter": "datum.p == 'e' && datum.k == 'gbase'"}], "mark": {"type": "text", "font": "Liberation Serif", "fontSize": 36, "align": "center", "baseline": "alphabetic", "color": "#222222"},
   "encoding": {"x": {"field": "x", "type": "quantitative", "axis": null}, "y": {"field": "y", "type": "quantitative", "axis": null}, "text": {"field": "t"}}}
 ]},
{"width": 403, "height": 342, "resolve": {"axis": {"x": "independent", "y": "independent"}},
 "layer": [
  {"data": {"name": "hist"}, "transform": [{"filter": "datum.p == 'f'"}], "mark": {"type": "line", "interpolate": "step-after", "color": "#ff2020", "strokeWidth": 2.5},
   "encoding": {"x": {"field": "x", "type": "quantitative", "scale": {"domain": [-1, 1], "nice": false, "zero": false}, "axis": {"orient": "bottom", "values": [-1,-0.9,-0.8,-0.7,-0.6,-0.5,-0.4,-0.3,-0.2,-0.1,0,0.1,0.2,0.3,0.4,0.5,0.6,0.7,0.8,0.9,1], "title": null, "grid": false, "domain": false, "tickColor": "black", "tickWidth": 2, "tickSize": {"condition": {"test": "abs(datum.value*2-round(datum.value*2))<0.01", "value": -16}, "value": -8}, "labelExpr": "abs(datum.value*2-round(datum.value*2))<0.01 ? toString(datum.value) : ''", "labelFont": "Liberation Sans", "labelFontWeight": "bold", "labelFontSize": 30, "labelColor": "black", "labelPadding": 23, "labelFlush": false, "labelOverlap": false, "labelBound": false}},
    "y": {"field": "v", "type": "quantitative", "scale": {"domain": [100, 500], "nice": false, "zero": false}, "axis": {"orient": "left", "values": [120,140,160,180,200,220,240,260,280,300,320,340,360,380,400,420,440,460,480], "title": null, "grid": false, "domain": false, "labels": false, "tickColor": "black", "tickWidth": 2, "tickSize": {"condition": {"test": "datum.value % 100 == 0", "value": -14}, "value": -7}}},
    "order": {"field": "i", "type": "quantitative"}}},
  {"data": {"name": "pts"}, "transform": [{"filter": "datum.p == 'f'"}], "mark": {"type": "errorbar", "color": "black", "thickness": 2.5},
   "encoding": {"x": {"field": "x", "type": "quantitative", "axis": null}, "y": {"field": "v", "type": "quantitative", "axis": null}, "yError": {"field": "e"}}},
  {"data": {"name": "pts"}, "transform": [{"filter": "datum.p == 'f'"}], "mark": {"type": "point", "shape": "circle", "size": 70, "fill": "white", "stroke": "black", "strokeWidth": 2.4, "opacity": 1},
   "encoding": {"x": {"field": "x", "type": "quantitative", "axis": {"orient": "top", "values": [-0.9,-0.8,-0.7,-0.6,-0.5,-0.4,-0.3,-0.2,-0.1,0,0.1,0.2,0.3,0.4,0.5,0.6,0.7,0.8,0.9], "title": null, "grid": false, "domain": false, "labels": false, "tickColor": "black", "tickWidth": 2, "tickSize": {"condition": {"test": "abs(datum.value*2-round(datum.value*2))<0.01", "value": -16}, "value": -8}}},
    "y": {"field": "v", "type": "quantitative", "axis": {"orient": "right", "values": [120,140,160,180,200,220,240,260,280,300,320,340,360,380,400,420,440,460,480], "title": null, "grid": false, "domain": false, "labels": false, "tickColor": "black", "tickWidth": 2, "tickSize": {"condition": {"test": "datum.value % 100 == 0", "value": -14}, "value": -7}}}}},
  {"data": {"name": "txt"}, "transform": [{"filter": "datum.p == 'f' && datum.k != 'gbase'"}], "mark": {"type": "text", "font": "DejaVu Sans", "fontWeight": "bold", "align": "center", "baseline": "alphabetic", "color": "black"},
   "encoding": {"x": {"field": "x", "type": "quantitative", "axis": null}, "y": {"field": "y", "type": "quantitative", "axis": null}, "text": {"field": "t"}, "size": {"field": "k", "type": "ordinal", "scale": {"type": "ordinal", "domain": ["main","sub","sub2","sup","dsup","ebase","gbase"], "range": [38,26,30,24,22,30,36]}, "legend": null}}},
  {"data": {"name": "txt"}, "transform": [{"filter": "datum.p == 'f' && datum.k == 'gbase'"}], "mark": {"type": "text", "font": "Liberation Serif", "fontSize": 36, "align": "center", "baseline": "alphabetic", "color": "#222222"},
   "encoding": {"x": {"field": "x", "type": "quantitative", "axis": null}, "y": {"field": "y", "type": "quantitative", "axis": null}, "text": {"field": "t"}}}
 ]}
]
}
